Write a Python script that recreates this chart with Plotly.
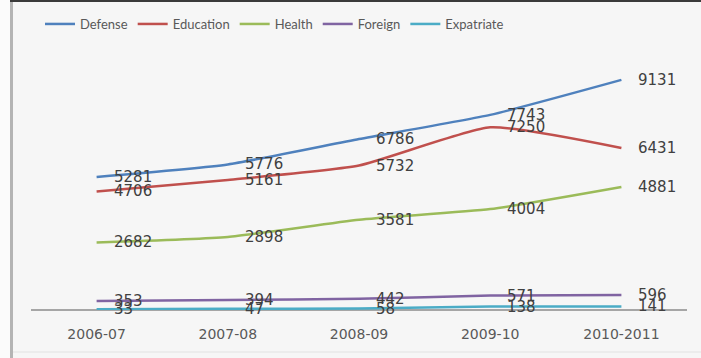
import plotly.graph_objects as go

years = ["2006-07", "2007-08", "2008-09", "2009-10", "2010-2011"]
defense = [5281, 5776, 6786, 7743, 9131]
education = [4706, 5161, 5732, 7250, 6431]
health = [2682, 2898, 3581, 4004, 4881]
foreign = [353, 394, 442, 571, 596]
expatriate = [33, 47, 58, 138, 141]

series = [
    ("Defense", defense, "#4F81BD"),
    ("Education", education, "#C0504D"),
    ("Health", health, "#9BBB59"),
    ("Foreign", foreign, "#8064A2"),
    ("Expatriate", expatriate, "#4BACC6"),
]

W, H = 701, 358
L, R, T, B = 31, 14, 58, 48
pw, ph = W - L - R, H - T - B

LABEL_FONT = "DejaVu Sans, sans-serif"

fig = go.Figure()
annotations = []
for name, vals, col in series:
    fig.add_trace(go.Scatter(
        x=years, y=vals, name=name, mode="lines",
        line=dict(color=col, width=2.5, shape="spline", smoothing=0.5),
    ))
    for i, (xv, yv) in enumerate(zip(years, vals)):
        annotations.append(dict(
            x=xv, y=yv, xref="x", yref="y", text=str(yv), showarrow=False,
            xanchor="left", yanchor="middle", xshift=15,
            font=dict(family=LABEL_FONT, size=15, color="#404040"),
        ))

def px2x(px):
    return (px - L) / pw

def py2y(py):
    return (H - B - py) / ph

shapes = [
    dict(type="rect", xref="paper", yref="paper", x0=px2x(0), x1=px2x(10), y0=py2y(358), y1=py2y(0),
         fillcolor="#fbfbfb", line=dict(width=0), layer="below"),
    dict(type="rect", xref="paper", yref="paper", x0=px2x(10), x1=px2x(13), y0=py2y(358), y1=py2y(0),
         fillcolor="#b4b4b4", line=dict(width=0), layer="below"),
    dict(type="rect", xref="paper", yref="paper", x0=px2x(10), x1=px2x(701), y0=py2y(2), y1=py2y(0),
         fillcolor="#3a3a3a", line=dict(width=0), layer="below"),
    dict(type="line", xref="paper", yref="paper", x0=px2x(13), x1=px2x(701), y0=py2y(352), y1=py2y(352),
         line=dict(color="#e2e2e2", width=1), layer="below"),
]

fig.update_layout(
    width=W, height=H,
    margin=dict(l=L, r=R, t=T, b=B),
    paper_bgcolor="#f6f6f6", plot_bgcolor="#f6f6f6",
    showlegend=True,
    legend=dict(orientation="h", xref="container", yref="container",
                x=40 / W, xanchor="left", y=1 - 24 / H, yanchor="middle",
                font=dict(family="Lato, sans-serif", size=13, color="#595959"),
                bgcolor="rgba(0,0,0,0)", itemwidth=30, tracegroupgap=0),
    xaxis=dict(type="category", range=[-0.5, 4.5], showgrid=False, zeroline=False,
               showline=False, ticks="", ticklabelstandoff=14,
               tickfont=dict(family=LABEL_FONT, size=14, color="#595959")),
    yaxis=dict(range=[0, 10000], showgrid=False, zeroline=True, zerolinecolor="#a6a6a6",
               zerolinewidth=1.5, showticklabels=False, ticks=""),
    annotations=annotations,
    shapes=shapes,
)

fig.write_html("out.html")
